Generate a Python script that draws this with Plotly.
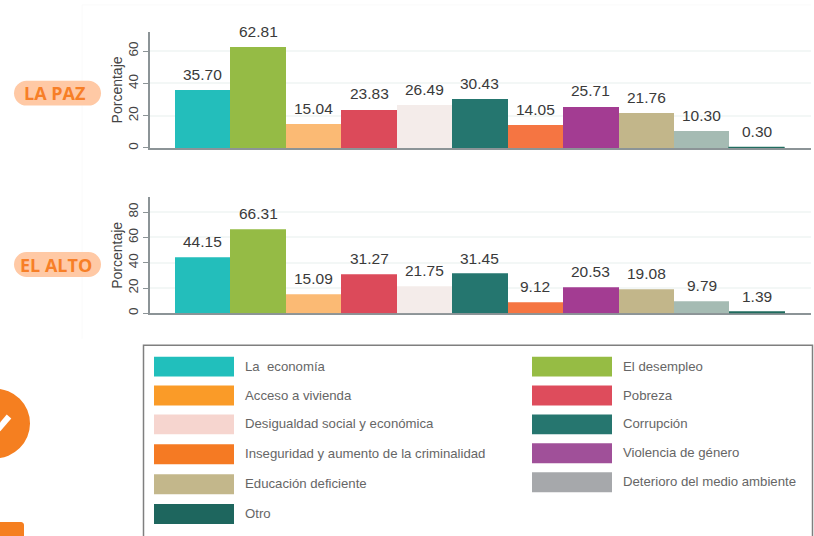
import plotly.graph_objects as go

categories = ["La  economía", "El desempleo", "Acceso a vivienda", "Pobreza",
              "Desigualdad social y económica", "Corrupción",
              "Inseguridad y aumento de la criminalidad", "Violencia de género",
              "Educación deficiente", "Deterioro del medio ambiente", "Otro"]
la_paz = [35.70, 62.81, 15.04, 23.83, 26.49, 30.43, 14.05, 25.71, 21.76, 10.30, 0.30]
el_alto = [44.15, 66.31, 15.09, 31.27, 21.75, 31.45, 9.12, 20.53, 19.08, 9.79, 1.39]
bar_colors = ["#23BEBB", "#95BB45", "#FBBA74", "#DC4A5A", "#F4ECEA", "#25766F",
              "#F57542", "#A33C92", "#C2B68A", "#A5BBB3", "#1F6B5E"]
legend_colors = ["#21BFBC", "#96BC44", "#FA9B28", "#DE4C5C", "#F6D5CF", "#26766F",
                 "#F57A23", "#A05099", "#C3B78B", "#A6A8AB", "#1E665E"]
legend_left = [0, 2, 4, 6, 8, 10]
legend_right = [1, 3, 5, 7, 9]
panels = ["LA PAZ", "EL ALTO"]
ticks_la_paz = [0, 20, 40, 60]
ticks_el_alto = [0, 20, 40, 60, 80]

W, H = 814, 536
px = lambda v: v / W
py = lambda v: 1 - v / H
TEXT = "Liberation Sans"
AXIS = "#8C9497"
GRID = "#F3F7F6"
idx = list(range(len(categories)))

fig = go.Figure()
for vals, xa, ya, edge in ((la_paz, "x", "y", [0] * 10 + [1]), (el_alto, "x2", "y2", [0] * 11)):
    fig.add_bar(x=idx, y=vals, xaxis=xa, yaxis=ya, showlegend=False,
                marker=dict(color=bar_colors, line=dict(color=bar_colors, width=edge)))

annotations, shapes = [], []
for xa, ya, vals in (("x", "y", la_paz), ("x2", "y2", el_alto)):
    for i, v in zip(idx, vals):
        annotations.append(dict(x=i, y=v, xref=xa, yref=ya, text=f"{v:.2f}", showarrow=False,
                                yanchor="bottom", yshift=5, font=dict(family=TEXT, size=15.5, color="#3A3A3A")))


def rrect(x0, y0, x1, y1, r):
    k = 0.45 * r
    X = lambda v: px(v)
    Y = lambda v: py(v)
    return (f"M{X(x0+r)},{Y(y0)} L{X(x1-r)},{Y(y0)} "
            f"C{X(x1-k)},{Y(y0)} {X(x1)},{Y(y0+k)} {X(x1)},{Y(y0+r)} L{X(x1)},{Y(y1-r)} "
            f"C{X(x1)},{Y(y1-k)} {X(x1-k)},{Y(y1)} {X(x1-r)},{Y(y1)} L{X(x0+r)},{Y(y1)} "
            f"C{X(x0+k)},{Y(y1)} {X(x0)},{Y(y1-k)} {X(x0)},{Y(y1-r)} L{X(x0)},{Y(y0+r)} "
            f"C{X(x0)},{Y(y0+k)} {X(x0+k)},{Y(y0)} {X(x0+r)},{Y(y0)} Z")


def rect(x0, y0, x1, y1, **kw):
    shapes.append(dict(type="rect", xref="paper", yref="paper", x0=px(x0), x1=px(x1), y0=py(y0), y1=py(y1), **kw))


# faint panel edges
shapes.append(dict(type="line", xref="paper", yref="paper", x0=px(82), x1=px(82), y0=py(5), y1=py(340),
                   line=dict(color="#FAFAFA", width=1)))
shapes.append(dict(type="line", xref="paper", yref="paper", x0=px(82), x1=px(811), y0=py(5), y1=py(5),
                   line=dict(color="#FAFAFA", width=1)))

# region pills
for label, top, cx in zip(panels, (81, 253), (54.5, 56)):
    shapes.append(dict(type="path", xref="paper", yref="paper", path=rrect(14, top, 101, top + 25, 12.5),
                       fillcolor="#FFC9A5", line_width=0))
    annotations.append(dict(x=px(cx), y=py(top + 12.5), xref="paper", yref="paper", text=f"<b>{label}</b>",
                            showarrow=False, xanchor="center", yanchor="middle",
                            font=dict(family="Open Sans", size=18, color="#F77F27")))

# legend box
rect(143.5, 346.5, 812.5, 545, line=dict(color="#7F7F7F", width=1.5), fillcolor="rgba(0,0,0,0)")
ys = [358, 387, 416, 446, 476, 506]
ys_r = [358, 387, 416, 445, 474]
for members, swatch_x, tops in ((legend_left, 154, ys), (legend_right, 532, ys_r)):
    for m, top in zip(members, tops):
        rect(swatch_x, top, swatch_x + 80, top + 20, fillcolor=legend_colors[m], line_width=0)
        annotations.append(dict(x=px(swatch_x + 88.5), y=py(top + 9.5), xref="paper", yref="paper", text=categories[m],
                                showarrow=False, xanchor="left", yanchor="middle",
                                font=dict(family=TEXT, size=13.2, color="#666666")))

# decorative page elements
shapes.append(dict(type="circle", xref="paper", yref="paper", x0=px(-40), x1=px(30), y0=py(460), y1=py(390),
                   fillcolor="#F57F20", line_width=0))
shapes.append(dict(type="line", xref="paper", yref="paper", x0=px(-2), x1=px(9), y0=py(431), y1=py(418),
                   line=dict(color="#FFFFFF", width=6)))
shapes.append(dict(type="path", xref="paper", yref="paper", path=rrect(-10, 524, 24, 550, 3),
                   fillcolor="#F57F20", line_width=0))

xr = [-0.95, 10.97]
xcommon = dict(range=xr, showticklabels=False, ticks="", showgrid=False, zeroline=False, layer="below traces",
               showline=True, linecolor=AXIS, linewidth=2, fixedrange=True)
ycommon = dict(showline=True, linecolor=AXIS, linewidth=2, ticks="outside", ticklen=5, tickcolor=AXIS, tickwidth=1,
               tickangle=-90, tickfont=dict(family=TEXT, size=13.5, color="#444444"), showgrid=True, gridcolor=GRID,
               gridwidth=2, zeroline=False, fixedrange=True,
               title=dict(text="Porcentaje", font=dict(family=TEXT, size=14, color="#444444"), standoff=0))

fig.update_layout(
    width=W, height=H, margin=dict(l=0, r=0, t=0, b=0), autosize=False,
    paper_bgcolor="white", plot_bgcolor="white", bargap=0, barmode="overlay",
    showlegend=False, annotations=annotations, shapes=shapes,
    xaxis=dict(domain=[px(150), px(811)], anchor="y", **xcommon),
    xaxis2=dict(domain=[px(150), px(811)], anchor="y2", **xcommon),
    yaxis=dict(domain=[py(148.5), py(32)], range=[0, 116.5 / 1.62], tickvals=ticks_la_paz, anchor="x", **ycommon),
    yaxis2=dict(domain=[py(314.5), py(198)], range=[0, 116.5 / 1.27], tickvals=ticks_el_alto, anchor="x2", **ycommon),
)

fig.write_html("out.html", config=dict(displayModeBar=False),
               post_script="document.body.style.margin='0';document.body.style.overflow='hidden';")
